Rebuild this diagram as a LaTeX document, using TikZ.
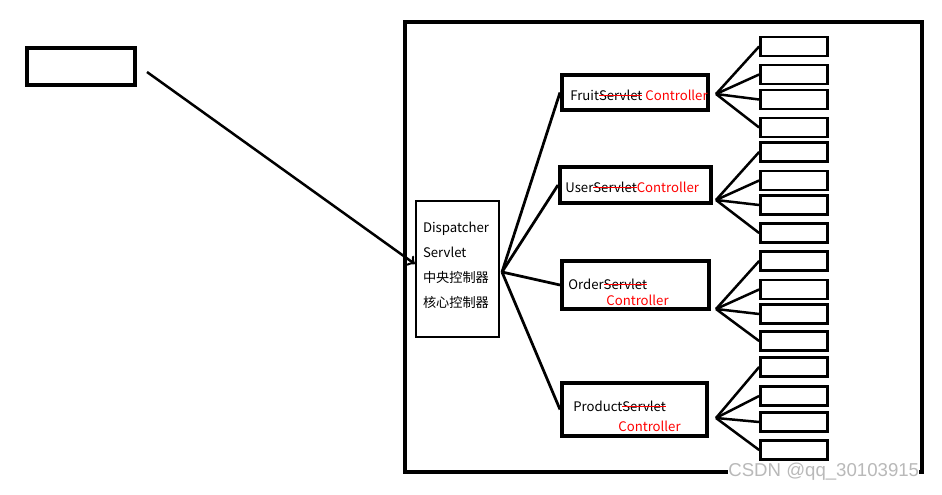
\documentclass[tikz,border=0pt]{standalone}
\usepackage{fontspec}
\usetikzlibrary{positioning}
\newfontfamily\cjk{Noto Sans CJK SC}
\newfontfamily\wmfont{Liberation Sans}
\newsavebox\strikebox
\newcommand{\redsout}[1]{\sbox\strikebox{#1}\rlap{\usebox\strikebox}\textcolor{red}{\rule[0.6ex]{\wd\strikebox}{0.6pt}}}
\tikzset{%
	box/.style={draw, rectangle, line width=0.8mm, inner sep=0mm},
	disp/.style={draw, rectangle, line width=0.45mm, minimum width=16.6mm, minimum height=27.2mm,%
		inner xsep=1.4mm, text width=13.8mm, align=left, font={\cjk\fontsize{7.5pt}{14.2pt}\selectfont}},
	leaf/.style={draw, rectangle, line width=0.55mm, minimum width=13.4mm, minimum height=3.8mm, inner sep=0mm},
	txt/.style={inner sep=0mm, anchor=west, font={\cjk\fontsize{7.5pt}{9pt}\selectfont}},
	connector/.style={line width=0.55mm},
	fan/.style={line width=0.5mm},
	sel/.style={->, line width=0.5mm},
	wmark/.style={inner sep=0mm, anchor=east, fill=white, text=gray!55, font={\wmfont\fontsize{10.6pt}{10.6pt}\selectfont}}
}

\begin{document}
\begin{tikzpicture}[x=0.2mm, y=-0.2mm]
	\useasboundingbox (0,0) rectangle (942,494);

	\node[box, minimum width=21.6mm, minimum height=7.4mm] (client) at (81,66.5) {};
	\node[box, minimum width=103.4mm, minimum height=90mm] (frame) at (663.5,247) {};
	\node[disp] (ds) at (457.5,269) {Dispatcher\\Servlet\\中央控制器\\核心控制器\vspace{1.6mm}};

	% controllers
	\node[box, minimum width=29.2mm, minimum height=7mm]    (fruit)   at (635,92.5)  {};
	\node[box, minimum width=30.2mm, minimum height=7.2mm]  (user)    at (635.5,185) {};
	\node[box, minimum width=29.4mm, minimum height=9.6mm]  (order)   at (635.5,285) {};
	\node[box, minimum width=29mm, minimum height=10.6mm]   (product) at (634.5,409.5) {};

	\node[txt] (fruittxt)   at (570,95)  {Fruit\redsout{Servlet}\ \textcolor{red}{Controller}};
	\node[txt] (usertxt)    at (565,187) {User\redsout{Servlet}\textcolor{red}{Controller}};
	\node[txt] (ordertxt)   at (568,284) {Order\redsout{Servlet}};
	\node[txt, text=red] (orderctl)   at (606,300) {Controller};
	\node[txt] (producttxt) at (573,406) {Product\redsout{Servlet}};
	\node[txt, text=red] (productctl) at (618,426) {Controller};

	% methods
	\node[leaf] (f1) at (794,46.5)  {};
	\node[leaf] (f2) at (794,74.5)  {};
	\node[leaf] (f3) at (794,99.5)  {};
	\node[leaf] (f4) at (794,127.5) {};
	\node[leaf] (u1) at (794,152)   {};
	\node[leaf] (u2) at (794,180.5) {};
	\node[leaf] (u3) at (794,205)   {};
	\node[leaf] (u4) at (794,233)   {};
	\node[leaf] (o1) at (794,261)   {};
	\node[leaf] (o2) at (794,289.5) {};
	\node[leaf] (o3) at (794,314)   {};
	\node[leaf] (o4) at (794,341)   {};
	\node[leaf] (p1) at (794,367)   {};
	\node[leaf] (p2) at (794,396)   {};
	\node[leaf] (p3) at (794,422)   {};
	\node[leaf] (p4) at (794,450)   {};

	\coordinate (src) at (147,72);
	\coordinate (hub) at (502,272);
	\coordinate (fruitfan)   at (716,94);
	\coordinate (userfan)    at (716,200);
	\coordinate (orderfan)   at (716,309);
	\coordinate (productfan) at (716,418);

	\draw[sel] (src) to ([yshift=1mm]ds.west);

	\draw[connector] (hub) to (fruit.west);
	\draw[connector] (hub) to (user.west);
	\draw[connector] (hub) to (order.west);
	\draw[connector] (hub) to (product.west);

	\draw[fan] (fruitfan) to (f1.west);
	\draw[fan] (fruitfan) to (f2.west);
	\draw[fan] (fruitfan) to (f3.west);
	\draw[fan] (fruitfan) to (f4.west);
	\draw[fan] (userfan) to (u1.west);
	\draw[fan] (userfan) to (u2.west);
	\draw[fan] (userfan) to (u3.west);
	\draw[fan] (userfan) to (u4.west);
	\draw[fan] (orderfan) to (o1.west);
	\draw[fan] (orderfan) to (o2.west);
	\draw[fan] (orderfan) to (o3.west);
	\draw[fan] (orderfan) to (o4.west);
	\draw[fan] (productfan) to (p1.west);
	\draw[fan] (productfan) to (p2.west);
	\draw[fan] (productfan) to (p3.west);
	\draw[fan] (productfan) to (p4.west);

	\node[wmark] (mark) at (919.5,472) {CSDN @qq\_30103915};
\end{tikzpicture}
\end{document}
